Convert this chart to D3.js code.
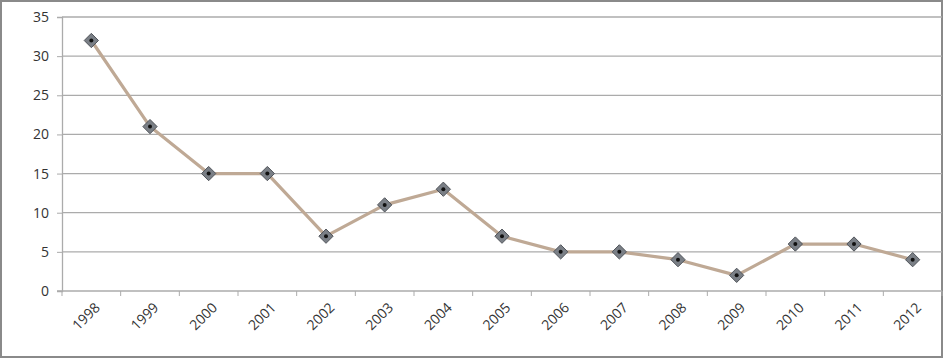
<!DOCTYPE html>
<html>
<head>
<meta charset="utf-8">
<script src="https://cdn.jsdelivr.net/npm/d3@7"></script>
<style>
  body { margin: 0; background: #fff; }
  svg { display: block; }
  .tick text { font-family: "Open Sans", "Liberation Sans", sans-serif; fill: #333; }
</style>
</head>
<body>
<svg id="chart"></svg>
<script>
// values
const years = ["1998", "1999", "2000", "2001", "2002", "2003", "2004", "2005",
  "2006", "2007", "2008", "2009", "2010", "2011", "2012"];
const counts = [32, 21, 15, 15, 7, 11, 13, 7, 5, 5, 4, 2, 6, 6, 4];
const yTicks = [0, 5, 10, 15, 20, 25, 30, 35];

const W = 946, H = 361;
const margin = { top: 17, right: 4, bottom: 70, left: 62 },
  width = W - margin.left - margin.right,
  height = H - margin.top - margin.bottom;

const svg = d3.select("#chart").attr("width", W).attr("height", H);

// outer frame
svg.append("rect")
  .attr("x", 1).attr("y", 1)
  .attr("width", W - 5).attr("height", H - 5)
  .attr("fill", "none")
  .attr("stroke", "#8a8a8a")
  .attr("stroke-width", 2);

const g = svg.append("g").attr("transform", `translate(${margin.left},${margin.top})`);

const x = d3.scaleBand().domain(years).range([0, width]);
const y = d3.scaleLinear().domain([0, 35]).range([height, 0]);

// horizontal gridlines
g.append("g")
  .selectAll("line")
  .data(yTicks.filter(d => d > 0))
  .enter()
  .append("line")
  .attr("x1", 0).attr("x2", width)
  .attr("y1", d => y(d)).attr("y2", d => y(d))
  .attr("stroke", "#ababab")
  .attr("stroke-width", 1.3);

// y axis
const yAxis = g.append("g")
  .call(d3.axisLeft(y).tickValues(yTicks).tickSize(5).tickPadding(8));
yAxis.select(".domain").attr("stroke", "#ababab").attr("stroke-width", 1.3);
yAxis.selectAll(".tick line").attr("stroke", "#ababab");
yAxis.selectAll("text").style("font-size", "14px");

// x axis, ticks between categories like the original
const xAxisG = g.append("g").attr("transform", `translate(0,${height})`);
xAxisG.append("line")
  .attr("x1", -5).attr("x2", width)
  .attr("stroke", "#ababab").attr("stroke-width", 1.3);
xAxisG.selectAll(".sep")
  .data(years.concat(["end"]))
  .enter()
  .append("line")
  .attr("class", "sep")
  .attr("x1", (d, i) => i * x.bandwidth())
  .attr("x2", (d, i) => i * x.bandwidth())
  .attr("y1", 0).attr("y2", 5)
  .attr("stroke", "#ababab");
xAxisG.selectAll(".lbl")
  .data(years)
  .enter()
  .append("text")
  .attr("class", "lbl")
  .attr("transform", d => `translate(${x(d) + x.bandwidth() / 2 + 6},${14}) rotate(-45)`)
  .attr("text-anchor", "end")
  .attr("dy", "0.35em")
  .style("font-family", "'Open Sans', 'Liberation Sans', sans-serif")
  .style("font-size", "14px")
  .style("fill", "#333")
  .text(d => d);

// the line
const line = d3.line()
  .x((d, i) => x(years[i]) + x.bandwidth() / 2)
  .y(d => y(d));

g.append("path")
  .datum(counts)
  .attr("d", line)
  .attr("fill", "none")
  .attr("stroke", "#bfa995")
  .attr("stroke-width", 3.2)
  .attr("stroke-linejoin", "round");

// diamond markers
const pts = g.selectAll(".pt")
  .data(counts)
  .enter()
  .append("g")
  .attr("transform", (d, i) => `translate(${x(years[i]) + x.bandwidth() / 2},${y(d)})`);

pts.append("path")
  .attr("d", d3.symbol().type(d3.symbolDiamond2).size(130))
  .attr("fill", "#7a7f86")
  .attr("stroke", "#50545a")
  .attr("stroke-width", 1);

pts.append("circle")
  .attr("r", 2)
  .attr("fill", "#111");
</script>
</body>
</html>
